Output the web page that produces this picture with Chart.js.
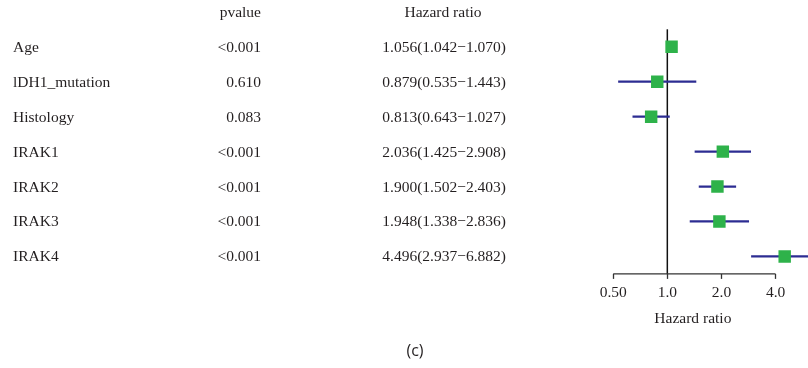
<!DOCTYPE html>
<html>
<head>
<meta charset="utf-8">
<title>Forest plot</title>
<script src="https://cdn.jsdelivr.net/npm/chart.js@4"></script>
<style>
  html, body { margin: 0; padding: 0; background: #ffffff; }
  canvas { display: block; }
</style>
</head>
<body>
<canvas id="forest" width="808" height="368"></canvas>
<script>
// Cox regression results: one row per variable
const categories = ['Age', 'lDH1_mutation', 'Histology', 'IRAK1', 'IRAK2', 'IRAK3', 'IRAK4'];
const pvalues = ['<0.001', '0.610', '0.083', '<0.001', '<0.001', '<0.001', '<0.001'];
const hazardRatio = [1.056, 0.879, 0.813, 2.036, 1.900, 1.948, 4.496];
const ciLower = [1.042, 0.535, 0.643, 1.425, 1.502, 1.338, 2.937];
const ciUpper = [1.070, 1.443, 1.027, 2.908, 2.403, 2.836, 6.882];
const xTickValues = [0.5, 1, 2, 4];
const xTickLabels = ['0.50', '1.0', '2.0', '4.0'];

const SERIF = '"Liberation Serif", "Times New Roman", serif';
const TEXT = '#231f20';
const BOX = '#2eb24a';
const WHISKER = '#2c2c92';

const hrText = hazardRatio.map((v, i) =>
  v.toFixed(3) + '(' + ciLower[i].toFixed(3) + '\u2212' + ciUpper[i].toFixed(3) + ')');

// Draws the table columns, the reference line at HR = 1, the axis baseline and axis title
const forestDecor = {
  id: 'forestDecor',
  beforeDatasetsDraw(chart) {
    const { ctx, chartArea, scales } = chart;
    const x1 = scales.x.getPixelForValue(1);
    ctx.save();
    ctx.strokeStyle = '#111';
    ctx.lineWidth = 1.5;
    ctx.beginPath();
    ctx.moveTo(x1, chartArea.top);
    ctx.lineTo(x1, chartArea.bottom);
    ctx.stroke();
    ctx.restore();
  },
  afterDraw(chart) {
    const { ctx, chartArea, scales } = chart;
    const xs = scales.x, ys = scales.y;
    const xFirst = xs.getPixelForValue(xTickValues[0]);
    const xLast = xs.getPixelForValue(xTickValues[xTickValues.length - 1]);
    ctx.save();
    // axis baseline spanning the labelled ticks
    ctx.strokeStyle = '#333';
    ctx.lineWidth = 1.4;
    ctx.beginPath();
    ctx.moveTo(xFirst, chartArea.bottom);
    ctx.lineTo(xLast, chartArea.bottom);
    ctx.stroke();

    ctx.fillStyle = TEXT;
    ctx.textBaseline = 'alphabetic';

    // axis title, centred under the labelled ticks
    ctx.font = '15.5px ' + SERIF;
    ctx.textAlign = 'center';
    ctx.fillText('Hazard ratio', (xFirst + xLast) / 2 - 1.5, 323);

    // table text
    const step = ys.getPixelForValue(1) - ys.getPixelForValue(0);
    const headY = ys.getPixelForValue(0) - step + 5;
    ctx.textAlign = 'right';
    ctx.fillText('pvalue', 261, headY);
    ctx.textAlign = 'center';
    ctx.fillText('Hazard ratio', 443, headY);
    categories.forEach((name, i) => {
      const y = ys.getPixelForValue(i) + 5;
      ctx.textAlign = 'left';
      ctx.fillText(name, 13, y);
      ctx.textAlign = 'right';
      ctx.fillText(pvalues[i], 261, y);
      ctx.fillText(hrText[i], 506, y);
    });

    // panel letter
    ctx.textAlign = 'center';
    ctx.textBaseline = 'middle';
    ctx.font = '16px "Open Sans", sans-serif';
    ctx.fillText('(c)', 415, 351);
    ctx.restore();
  }
};

new Chart(document.getElementById('forest'), {
  type: 'bar',
  data: {
    labels: categories,
    datasets: [
      {
        type: 'line',
        data: categories.map((c, i) => ({ x: hazardRatio[i], y: c })),
        showLine: false,
        pointStyle: 'rect',
        pointRadius: 8.8,
        pointHoverRadius: 8.8,
        pointBackgroundColor: BOX,
        pointBorderWidth: 0,
        order: 0
      },
      {
        type: 'bar',
        data: categories.map((c, i) => [ciLower[i], ciUpper[i]]),
        backgroundColor: WHISKER,
        borderWidth: 0,
        barThickness: 1.6,
        order: 1
      }
    ]
  },
  options: {
    indexAxis: 'y',
    responsive: false,
    animation: false,
    devicePixelRatio: 1,
    layout: { autoPadding: false, padding: { left: 613.2, right: 0, top: 29.3, bottom: 34.1 } },
    plugins: { legend: { display: false }, tooltip: { enabled: false } },
    events: [],
    scales: {
      y: { type: 'category', display: false, offset: true },
      x: {
        type: 'logarithmic',
        min: 0.5,
        max: 6.06,
        bounds: 'data',
        afterBuildTicks: s => { s.ticks = xTickValues.map(v => ({ value: v })); },
        afterFit: s => { s.height = 60; s.paddingLeft = 0; s.paddingRight = 0; },
        border: { display: false },
        grid: { drawOnChartArea: false, drawTicks: true, tickLength: 5, tickWidth: 1.3, tickColor: '#333' },
        ticks: {
          autoSkip: false,
          maxRotation: 0,
          padding: 5,
          color: TEXT,
          font: { family: SERIF, size: 15.5 },
          callback: (v, i) => xTickLabels[i]
        }
      }
    }
  },
  plugins: [forestDecor]
});
</script>
</body>
</html>
